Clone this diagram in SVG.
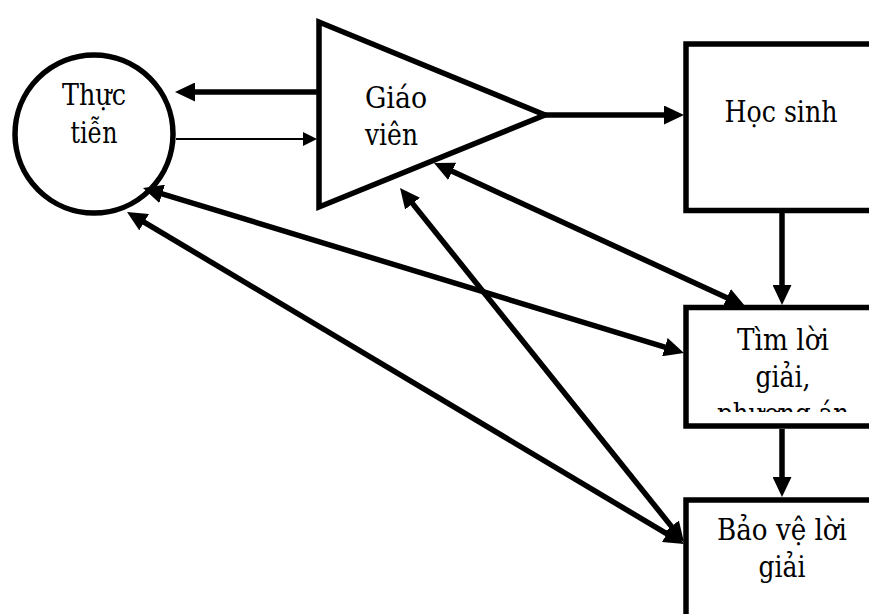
<svg xmlns="http://www.w3.org/2000/svg" width="869" height="614" viewBox="0 0 869 614">
  <style>
    .shape { fill: #fff; stroke: #000; stroke-width: 5.5; stroke-linejoin: miter; }
    .lbl { font-size: 29px; fill: #000; }
    .mid { text-anchor: middle; }
    .thick { stroke: #000; stroke-width: 5.5; fill: none; }
    .thin { stroke: #000; stroke-width: 2; fill: none; }
  </style>
  <defs>
    <marker id="head" markerUnits="userSpaceOnUse" markerWidth="20" markerHeight="19" refX="6" refY="9.5" orient="auto-start-reverse">
      <path d="M0,0 L20,9.5 L0,19 z" fill="#000"/>
    </marker>
    <marker id="headThin" markerUnits="userSpaceOnUse" markerWidth="14" markerHeight="14" refX="4" refY="7" orient="auto-start-reverse">
      <path d="M0,0 L14,7 L0,14 z" fill="#000"/>
    </marker>
    <clipPath id="clipSolution">
      <rect x="688" y="310" width="181" height="102"/>
    </clipPath>
  </defs>

  <g font-family="'DejaVu Serif', 'Liberation Serif', 'Times New Roman', serif">
    <g id="practice">
      <circle class="shape" cx="94" cy="134" r="79"/>
      <text class="lbl mid" x="94" y="105" textLength="64" lengthAdjust="spacingAndGlyphs">Thực</text>
      <text class="lbl mid" x="94" y="143" textLength="47" lengthAdjust="spacingAndGlyphs">tiễn</text>
    </g>

    <g id="teacher">
      <polygon class="shape" points="319,22 319,207 545,115"/>
      <text class="lbl" x="365" y="108" textLength="62" lengthAdjust="spacingAndGlyphs">Giáo</text>
      <text class="lbl" x="365" y="145" textLength="53" lengthAdjust="spacingAndGlyphs">viên</text>
    </g>

    <g id="student">
      <rect class="shape" x="686" y="44" width="200" height="166.5"/>
      <text class="lbl mid" x="781" y="122" textLength="113" lengthAdjust="spacingAndGlyphs">Học sinh</text>
    </g>

    <g id="find-solution">
      <rect class="shape" x="686" y="307.5" width="200" height="118.5"/>
      <g clip-path="url(#clipSolution)">
        <text class="lbl mid" x="783" y="350" textLength="92" lengthAdjust="spacingAndGlyphs">Tìm lời</text>
        <text class="lbl mid" x="783" y="387" textLength="55" lengthAdjust="spacingAndGlyphs">giải,</text>
        <text class="lbl mid" x="783" y="424" textLength="132" lengthAdjust="spacingAndGlyphs">phương án</text>
      </g>
    </g>

    <g id="defend-solution">
      <rect class="shape" x="686" y="500" width="200" height="200"/>
      <text class="lbl mid" x="782" y="540" textLength="130" lengthAdjust="spacingAndGlyphs">Bảo vệ lời</text>
      <text class="lbl mid" x="782" y="577" textLength="47" lengthAdjust="spacingAndGlyphs">giải</text>
    </g>
  </g>

  <g id="connectors">
    <line class="thick" x1="319" y1="92" x2="189" y2="92" marker-end="url(#head)"/>
    <line class="thin" x1="176" y1="139" x2="307" y2="139" marker-end="url(#headThin)"/>
    <line class="thick" x1="545" y1="115" x2="670" y2="115" marker-end="url(#head)"/>
    <line class="thick" x1="782" y1="213" x2="782" y2="291" marker-end="url(#head)"/>
    <line class="thick" x1="782" y1="429" x2="782" y2="483" marker-end="url(#head)"/>
    <line class="thick" x1="156.4" y1="192.1" x2="670.6" y2="348.9" marker-start="url(#head)" marker-end="url(#head)"/>
    <line class="thick" x1="139" y1="219.1" x2="672" y2="536.9" marker-start="url(#head)" marker-end="url(#head)"/>
    <line class="thick" x1="408.8" y1="198.9" x2="675.2" y2="531.1" marker-start="url(#head)" marker-end="url(#head)"/>
    <line class="thick" x1="446.7" y1="168.8" x2="732.3" y2="300.2" marker-start="url(#head)" marker-end="url(#head)"/>
  </g>
</svg>
